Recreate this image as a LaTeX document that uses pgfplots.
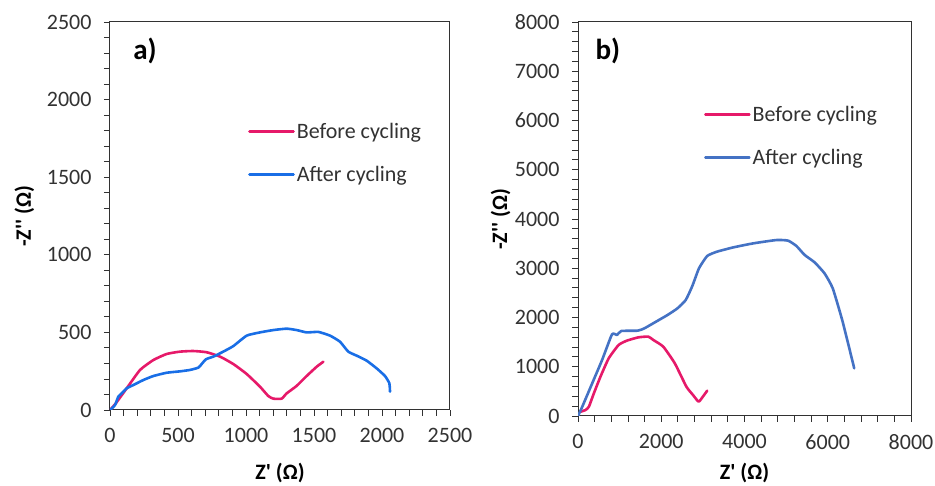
\documentclass[border=0pt]{standalone}
\usepackage{fontspec}
\setmainfont{Carlito}[Ligatures=TeXOff]
\usepackage{pgfplots}
\pgfplotsset{compat=1.18}
\definecolor{redc}{RGB}{230,25,105}
\definecolor{bluea}{RGB}{25,110,230}
\definecolor{blueb}{RGB}{68,114,196}
\definecolor{axc}{RGB}{50,50,50}
\pgfplotsset{
 myax/.style={
  scale only axis, axis line style={axc, line width=1pt},
  tick style={axc, line width=0.9pt}, tick align=outside, tick pos=left,
  major tick length=6pt, minor tick length=6pt,
  xmin=0, ymin=0,
  /pgf/number format/assume math mode=true, /pgf/number format/1000 sep={},
  ticklabel style={font=\fontsize{22}{25}\selectfont, text=axc},
  xticklabel style={yshift=-9pt},
  yticklabel style={xshift=-9pt},
  label style={font=\bfseries\fontsize{22}{26}\selectfont, text=black},
  legend style={draw=none, fill=none, font=\fontsize{22}{25}\selectfont, text=axc,
    row sep=22pt, inner sep=0pt, anchor=north west},
  legend cell align=left,
  legend image code/.code={\draw[#1, line width=2.6pt] (0pt,0pt) -- (44pt,0pt);},
  every axis plot/.append style={line width=2.6pt, line join=round, line cap=round, smooth, tension=0.3},
 }
}
\begin{document}
\begin{tikzpicture}
\path[use as bounding box] (0,0) rectangle (935pt,486pt);
\begin{axis}[myax, at={(110pt,76pt)}, anchor=south west, width=340pt, height=388pt,
  xmax=2500, ymax=2500, xtick distance=500, ytick distance=500,
  minor x tick num=4, minor y tick num=4,
  xlabel={Z' (Ω)}, ylabel={-Z'' (Ω)},
  xlabel style={at={(axis description cs:0.5,-0.162)}, anchor=center},
  ylabel style={at={(axis description cs:-0.252,0.5)}, anchor=center},
  legend style={at={(axis description cs:0.406,0.745)}}]
\addplot[redc] coordinates {(0,0) (40,40) (123,140) (221,258) (319,322) (417,361) (515,376) (613,380) (711,372) (809,344) (907,296) (1005,232) (1103,150) (1164,90) (1201,73) (1262,73) (1299,107) (1372,155) (1446,219) (1520,279) (1569,311)};
\addlegendentry{Before cycling}
\addplot[bluea] coordinates {(0,0) (37,32) (61,86) (86,107) (123,140) (172,161) (245,193) (319,219) (417,240) (515,249) (588,258) (650,273) (674,296) (706,327) (760,344) (833,376) (907,412) (1005,479) (1103,500) (1201,515) (1299,524) (1372,515) (1446,500) (1532,503) (1618,479) (1691,440) (1752,376) (1814,350) (1887,318) (1961,268) (2022,219) (2054,172) (2059,118)};
\addlegendentry{After cycling}
\node[font=\bfseries\fontsize{29}{32}\selectfont, anchor=west, text=black] at (axis description cs:0.058,0.925) {a)};
\end{axis}
\begin{axis}[myax, at={(578pt,70pt)}, anchor=south west, width=333pt, height=394pt,
  xmax=8000, ymax=8000, xtick distance=2000, ytick distance=1000,
  minor x tick num=4, minor y tick num=4,
  xlabel={Z' (Ω)}, ylabel={-Z'' (Ω)},
  xlabel style={at={(axis description cs:0.5,-0.145)}, anchor=center},
  ylabel style={at={(axis description cs:-0.232,0.5)}, anchor=center},
  legend style={at={(axis description cs:0.378,0.792)}}]
\addplot[redc] coordinates {(63,88) (183,122) (262,190) (381,460) (540,799) (738,1171) (976,1442) (1175,1530) (1452,1597) (1691,1611) (1810,1543) (2048,1408) (2326,1069) (2604,596) (2763,426) (2898,291) (3000,393) (3104,514)};
\addlegendentry{Before cycling}
\addplot[blueb] coordinates {(0,0) (103,190) (341,663) (579,1137) (817,1658) (937,1645) (1040,1726) (1436,1733) (1595,1780) (1833,1895) (2151,2051) (2389,2186) (2588,2355) (2747,2640) (2906,2998) (3104,3249) (3342,3337) (3739,3425) (4215,3506) (4771,3573) (5049,3560) (5247,3452) (5446,3269) (5684,3120) (5922,2897) (6120,2592) (6358,1915) (6636,968)};
\addlegendentry{After cycling}
\node[font=\bfseries\fontsize{29}{32}\selectfont, anchor=west, text=black] at (axis description cs:0.042,0.926) {b)};
\end{axis}
\end{tikzpicture}
\end{document}
